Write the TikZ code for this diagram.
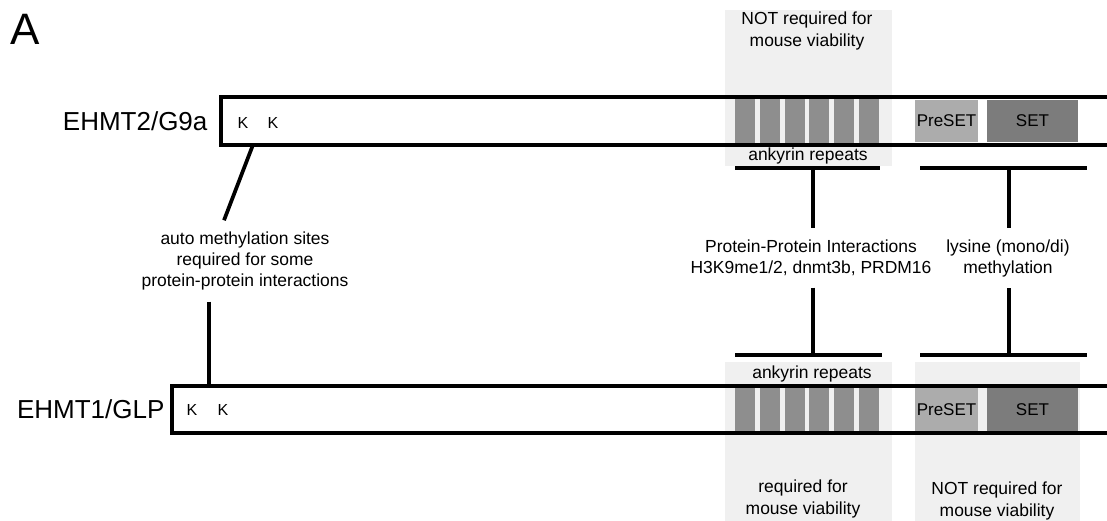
\documentclass[tikz,border=0pt]{standalone}
\usepackage{fontspec}
\setmainfont{Liberation Sans}
\usepackage{tikz}
\usetikzlibrary{calc,positioning}
\definecolor{ShadeGray}{RGB}{240,240,240}
\definecolor{RepeatGray}{RGB}{142,142,142}
\definecolor{PreSetGray}{RGB}{172,172,172}
\definecolor{SetGray}{RGB}{124,124,124}
\tikzset{
  protbar/.style={draw,line width=2.8pt,minimum width=750pt,anchor=west,inner sep=0pt,outer sep=0pt},
  domainbox/.style={minimum height=32pt,inner sep=0pt,font=\fontsize{12.75}{15}\selectfont},
  protname/.style={inner sep=0pt,font=\fontsize{19.5}{22}\selectfont},
  sitelabel/.style={font=\fontsize{12}{14}\selectfont},
  note/.style={align=center,font=\fontsize{13.1}{15.75}\selectfont},
  linknote/.style={note,inner xsep=2pt,inner ysep=8.5pt},
  viable/.style={align=center,font=\fontsize{13.1}{16.5}\selectfont},
  link/.style={line width=2.8pt}
}
\newcommand{\repeats}[2]{% #1 = top, #2 = bottom
  \foreach \i in {0,...,5}
    \fill[RepeatGray] (735+24.8*\i,#1) rectangle (755+24.8*\i,#2);}

\begin{document}
\begin{tikzpicture}[x=0.75pt,y=-0.75pt]
  \useasboundingbox (0,0) rectangle (1107,521);
  % shaded regions
  \fill[ShadeGray] (725,10) rectangle (892,166);
  \fill[ShadeGray] (725,362) rectangle (892,521);
  \fill[ShadeGray] (915,362) rectangle (1080,521);
  \node[font=\fontsize{33}{33}\selectfont] (panel) at (25,29) {A};
  \node[viable] (viaA) at (807,31) {NOT required for\\mouse viability};

  % EHMT2/G9a
  \repeats{98}{144}
  \node[domainbox,fill=PreSetGray,minimum width=47pt] (preA) at (946.5,121) {PreSET};
  \node[domainbox,fill=SetGray,minimum width=68pt] (setA) at (1032.5,121) {SET};
  \node[protbar,minimum height=36pt] (g9a) at (221,121) {};
  \node[protname,left=10pt of g9a.west] (g9aname) {EHMT2/G9a};
  \node[sitelabel] (kA1) at (243,123) {K};
  \node[sitelabel] (kA2) at (273,123) {K};
  \node[note] (ankA) at (808,156) {ankyrin repeats};

  % EHMT1/GLP
  \repeats{388}{431}
  \node[domainbox,fill=PreSetGray,minimum width=47pt] (preB) at (946.5,409.5) {PreSET};
  \node[domainbox,fill=SetGray,minimum width=68pt] (setB) at (1032.5,409.5) {SET};
  \node[protbar,minimum height=35.25pt] (glp) at (172,409.5) {};
  \node[protname,left=5.5pt of glp.west] (glpname) {EHMT1/GLP};
  \node[sitelabel] (kB1) at (192,410) {K};
  \node[sitelabel] (kB2) at (223,410) {K};
  \node[note] (ankB) at (812,374) {ankyrin repeats};
  \node[viable] (viaB) at (803,499) {required for\\mouse viability};
  \node[viable] (viaC) at (997,501) {NOT required for\\mouse viability};

  % functions
  \node[linknote] (auto) at (245,261) {auto methylation sites\\required for some\\protein-protein interactions};
  \node[linknote] (ppi) at (811,258) {Protein-Protein Interactions\\H3K9me1/2, dnmt3b, PRDM16};
  \node[linknote] (lys) at (1008,258) {lysine (mono/di)\\methylation};

  % brackets
  \draw[link] (735,168) -- (880,168);
  \draw[link] (920,168) -- (1087,168);
  \draw[link] (735,355) -- (882,355);
  \draw[link] (920,355) -- (1087,355);
  \coordinate (ankTop) at (813,168);
  \coordinate (ankBot) at (813,355);
  \coordinate (setTop) at (1009,168);
  \coordinate (setBot) at (1009,355);
  \coordinate (siteA) at ($(kA1)!0.33!(kA2)$);
  \coordinate (siteB) at ($(kB1)!0.55!(kB2)$);

  % connectors
  \draw[link] (siteA |- g9a.south) -- ($(auto.north)+(-21,0)$);
  \draw[link] (siteB |- auto.south) -- (siteB |- glp.north);
  \draw[link] (ankTop) -- (ankTop |- ppi.north);
  \draw[link] (ankTop |- ppi.south) -- (ankBot);
  \draw[link] (setTop) -- (setTop |- lys.north);
  \draw[link] (setTop |- lys.south) -- (setBot);
\end{tikzpicture}
\end{document}
